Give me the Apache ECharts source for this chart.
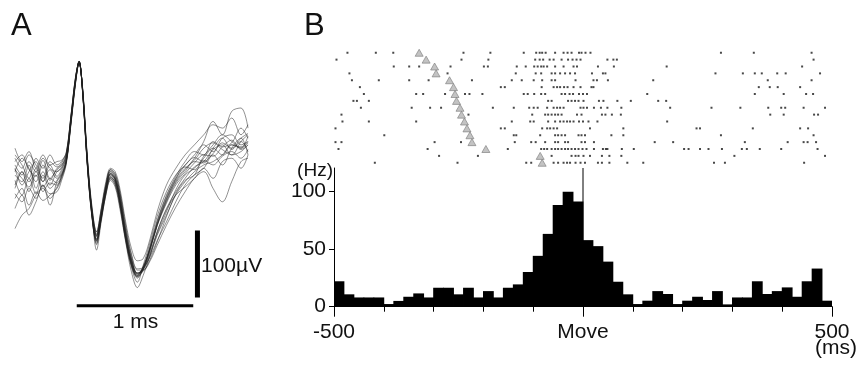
<!DOCTYPE html>
<html>
<head>
<meta charset="utf-8">
<script src="https://cdn.jsdelivr.net/npm/echarts@6/dist/echarts.min.js"></script>
<style>
html, body { margin: 0; padding: 0; background: #fff; }
#chart { width: 860px; height: 369px; }
</style>
</head>
<body>
<div id="chart"></div>
<script>
// ---- panel A: overlaid spike waveforms (ms, µV) ----
const waveTimes = [0, 0.06, 0.12, 0.18, 0.24, 0.30, 0.36, 0.40, 0.44, 0.48, 0.52, 0.55, 0.58, 0.62, 0.66, 0.70,
  0.74, 0.78, 0.82, 0.86, 0.90, 0.95, 1.00, 1.05, 1.10, 1.16, 1.22, 1.30, 1.38, 1.46, 1.54, 1.62, 1.70, 1.78, 1.86, 1.94, 2.00];

const waveforms = [
  [10,-15,5,20,-10,8,-5, 5,22,80,140,168,125,20,-58,-98,-62,-20,2,-6,-40,-95,-135,-152,-140,-110,-75,-40,-12,5,20,18,40,55,38,50,35],
  [-20,5,-25,0,-18,-5,-12, 0,20,76,138,170,128,25,-52,-90,-58,-18,5,-4,-30,-82,-125,-148,-142,-120,-90,-60,-30,-10,5,15,20,30,45,40,48],
  [5,25,10,-10,15,-8,10, 15,30,86,145,169,126,18,-60,-104,-66,-28,-5,-14,-45,-98,-138,-160,-135,-100,-62,-25,0,15,30,45,35,55,60,45,50],
  [-35,-20,-45,-25,-38,-30,-20, -5,18,78,140,167,130,28,-48,-88,-52,-15,8,0,-25,-75,-118,-140,-138,-122,-98,-70,-40,-15,0,10,30,15,40,55,30],
  [15,0,20,5,25,10,5, 12,28,84,144,170,124,15,-62,-102,-65,-25,-3,-12,-42,-92,-132,-150,-136,-108,-72,-35,-8,10,22,40,48,38,30,50,60],
  [-8,-30,-5,-28,0,-20,-8, 2,22,80,141,168,128,24,-55,-92,-60,-22,2,-6,-35,-88,-128,-147,-140,-115,-85,-50,-25,-5,12,20,38,45,30,35,45],
  [25,10,30,15,-5,20,12, 18,32,87,146,168,125,20,-58,-96,-62,-26,-4,-10,-40,-94,-134,-152,-142,-112,-75,-38,-10,8,25,50,80,60,95,100,70],
  [-15,5,-10,10,-25,-12,-15, -2,20,78,139,169,129,26,-54,-90,-56,-16,6,-2,-30,-85,-125,-146,-144,-126,-100,-62,-28,-8,0,22,15,28,35,25,38],
  [0,-10,15,-20,5,-15,5, 10,26,83,143,170,126,19,-60,-98,-63,-23,0,-8,-38,-91,-131,-150,-138,-105,-68,-30,-2,20,35,30,50,42,48,70,55],
  [30,15,-5,25,10,30,15, 20,34,88,146,169,124,17,-62,-100,-67,-29,-6,-15,-46,-97,-136,-154,-140,-108,-70,-32,-5,12,8,28,45,60,50,40,58],
  [-28,-40,-20,-35,-15,-28,-25, -8,16,75,137,167,131,30,-46,-85,-52,-14,8,2,-26,-80,-120,-142,-142,-128,-105,-75,-48,-25,-5,5,-20,-40,-10,20,25],
  [8,-5,-18,5,-10,15,-2, 8,25,82,142,169,127,21,-56,-95,-61,-21,1,-7,-36,-89,-130,-148,-138,-110,-76,-42,-15,2,18,30,28,42,52,38,45],
  [-80,-60,-50,-30,-20,-35,-18, -3,19,79,140,168,129,25,-53,-91,-58,-19,3,-5,-34,-87,-127,-146,-141,-118,-88,-55,-22,0,10,25,40,30,45,42,50],
  [20,30,8,-2,22,-5,8, 14,29,85,144,170,125,18,-60,-97,-64,-24,-2,-10,-41,-93,-133,-151,-139,-110,-74,-36,-6,14,26,20,32,48,40,55,62],
  [-50,-30,-60,-40,-15,-45,-10, 0,21,79,141,168,128,23,-56,-112,-70,-30,-8,-18,-50,-100,-145,-168,-150,-120,-85,-52,-30,-18,-5,10,-5,20,25,10,30],
  [40,20,35,10,30,15,20, 22,33,88,147,169,126,19,-50,-85,-50,-10,10,5,-20,-70,-110,-128,-125,-95,-55,-15,10,30,45,60,75,70,85,60,75]
];

// scale bars: 1 ms and 100 µV
const timeBar = [[0.53, -195], [1.53, -195]];
const voltBar = [[1.566, -83], [1.566, -183]];

// ---- panel B: raster (spike times in ms, one list per trial) ----
const trials = [
  [-473,-416,-381,-240,-186,-119,-94,-87,-82,-75,-56,-39,-31,-23,-8,-3,5,15,277,343,459],
  [-495,-244,-190,-96,-87,-80,-67,-59,-43,-30,-21,-13,-5,49,61,68,463],
  [-380,-349,-329,-266,-199,-191,-133,-115,-98,-91,-84,-79,-72,-56,-39,-19,-12,30,62,168,440],
  [-469,-272,-135,-95,-84,-63,-56,-46,-36,-26,-16,18,40,45,266,321,345,359,390,407,476],
  [-464,-410,-349,-310,-223,-143,-123,-99,-82,-63,-56,-15,21,28,50,141,371,459],
  [-448,-165,-157,-83,-59,-52,-46,-38,-31,-19,-5,17,21,353,375,391,436],
  [-440,-335,-321,-277,-237,-228,-202,-119,-111,-98,-84,-76,-43,-36,-27,-20,-8,0,8,129,345,403,448,462],
  [-461,-454,-430,-70,-63,-30,-23,-16,-9,1,32,41,69,96,151,167],
  [-446,-344,-307,-285,-181,-139,-108,-99,-91,-72,-59,-52,-46,-39,-5,1,8,22,36,49,77,175,258,316,372,398,406,443,486],
  [-485,-230,-102,-76,-70,-63,-56,-50,-43,-12,-3,38,45,58,76,376,403,464,472],
  [-483,-430,-335,-143,-106,-99,-70,-56,-46,-39,-32,-26,-19,-8,0,11,29,169],
  [-497,-165,-157,-82,-72,-66,-59,-52,14,81,228,235,341,436,452],
  [-399,-139,-134,-86,-56,-50,-43,-36,-9,-3,4,57,81,277,463],
  [-497,-485,-298,-245,-137,-104,-95,-76,-56,-50,-36,-30,-3,4,22,144,181,325,411,443,451,468],
  [-491,-312,-151,-84,-78,-72,-63,-56,-50,-43,-36,-30,-23,-16,-9,-1,7,22,40,46,49,78,102,203,212,235,252,279,319,329,355,398,471],
  [-289,-211,-63,-23,-15,-9,1,14,38,53,77,304,486],
  [-418,-252,-114,-104,-59,-50,-39,-32,-26,-15,-5,4,30,38,53,89,121,263,285,444]
];
// cue time (triangle) for each trial, ms
const cueTimes = [-329,-315,-298,-295,-268,-260,-257,-254,-247,-244,-238,-233,-227,-223,-195,-86,-82];

// ---- panel B: peri-event histogram, 20 ms bins ----
const binStarts = [-500,-480,-460,-440,-420,-400,-380,-360,-340,-320,-300,-280,-260,-240,-220,-200,-180,-160,-140,-120,
  -100,-80,-60,-40,-20,0,20,40,60,80,100,120,140,160,180,200,220,240,260,280,300,320,340,360,380,400,420,440,460,480];
const rates = [22,10.7,8,8,8,2.3,5,8.6,11.5,8,16.4,16.4,10.7,16.4,8,13.5,8,16.4,19.3,30,
  44,63,88,99.4,91,57.6,52.4,39,21.6,10.7,2.3,5.2,13.5,11,2.3,5.2,8.6,5.8,13.5,2,
  8,8,22,11,13.5,16.7,8.6,22,33,5.2];
const rateTicks = [0, 50, 100];
const moveTime = 0;
const rateMax = 120;

const FONT = '"Liberation Sans", Arial, sans-serif';
const INK = '#111';

const spikePoints = [];
trials.forEach((row, i) => row.forEach(t => spikePoints.push([t, i])));
const cuePoints = cueTimes.map((t, i) => [t, i]);

const series = waveforms.map(w => ({
  type: 'line', xAxisIndex: 0, yAxisIndex: 0,
  data: w.map((v, i) => [waveTimes[i], v]),
  showSymbol: false, smooth: 0.35, silent: true,
  lineStyle: { color: 'rgba(30,30,30,0.62)', width: 0.8 }
}));

series.push(
  { type: 'line', xAxisIndex: 0, yAxisIndex: 0, data: timeBar, showSymbol: false,
    lineStyle: { color: '#000', width: 3 } },
  { type: 'line', xAxisIndex: 0, yAxisIndex: 0, data: voltBar, showSymbol: false,
    lineStyle: { color: '#000', width: 5 } },
  { type: 'scatter', xAxisIndex: 1, yAxisIndex: 1, data: spikePoints,
    symbol: 'rect', symbolSize: [2, 2], itemStyle: { color: '#1a1a1a' } },
  { type: 'scatter', xAxisIndex: 1, yAxisIndex: 1, data: cuePoints,
    symbol: 'triangle', symbolSize: [8, 7],
    itemStyle: { color: '#b4b4b4', borderColor: '#7c7c7c', borderWidth: 0.8 } },
  // bars slightly wider than the 20 ms band so neighbours overlap with no seams
  { type: 'bar', xAxisIndex: 2, yAxisIndex: 2, data: rates,
    barWidth: 10.8, itemStyle: { color: '#000' } },
  { type: 'line', xAxisIndex: 3, yAxisIndex: 2, data: [[moveTime, 0], [moveTime, rateMax]],
    showSymbol: false, lineStyle: { color: '#000', width: 1 } }
);

const chart = echarts.init(document.getElementById('chart'));
chart.setOption({
  animation: false,
  grid: [
    { left: 15, top: 41, width: 233, height: 301.5 },
    { left: 334, top: 50, width: 498, height: 115.5 },
    { left: 334, top: 168, width: 498, height: 138.7 }
  ],
  xAxis: [
    { type: 'value', gridIndex: 0, min: 0, max: 2.0, show: false },
    { type: 'value', gridIndex: 1, min: -500, max: 500, show: false },
    { type: 'category', gridIndex: 2, data: binStarts, show: false, boundaryGap: true },
    { type: 'value', gridIndex: 2, min: -500, max: 500, interval: 100, position: 'bottom',
      axisLine: { onZero: false, lineStyle: { color: '#000', width: 1 } },
      axisTick: { show: true, length: 5, lineStyle: { color: '#000' } },
      axisLabel: { show: false }, splitLine: { show: false } },
    { type: 'value', gridIndex: 2, min: -500, max: 500, interval: 500, position: 'bottom',
      axisLine: { show: false, onZero: false },
      axisTick: { show: true, length: 10, lineStyle: { color: '#000' } },
      axisLabel: { margin: 15, fontSize: 21, fontFamily: FONT, color: INK,
        formatter: v => v === 0 ? 'Move' : String(v) },
      splitLine: { show: false } }
  ],
  yAxis: [
    { type: 'value', gridIndex: 0, min: -250, max: 200, show: false },
    { type: 'value', gridIndex: 1, min: -0.4, max: 16.4, inverse: true, show: false },
    { type: 'value', gridIndex: 2, min: 0, max: rateMax,
      axisLine: { show: true, onZero: false, lineStyle: { color: '#000', width: 1 } },
      axisTick: { show: true, length: 5, customValues: rateTicks, lineStyle: { color: '#000' } },
      axisLabel: { margin: 8, fontSize: 21, fontFamily: FONT, color: INK, customValues: rateTicks },
      splitLine: { show: false } }
  ],
  graphic: [
    { type: 'text', left: 11, top: 11, style: { text: 'A', fontSize: 31, fontFamily: FONT, fill: INK } },
    { type: 'text', left: 304, top: 11, style: { text: 'B', fontSize: 31, fontFamily: FONT, fill: INK } },
    { type: 'text', x: 333, y: 171, style: { text: '(Hz)', fontSize: 19, fontFamily: FONT, fill: INK,
      align: 'right', verticalAlign: 'middle' } },
    { type: 'text', x: 836, y: 348, style: { text: '(ms)', fontSize: 21, fontFamily: FONT, fill: INK,
      align: 'center', verticalAlign: 'middle' } },
    { type: 'text', x: 135.5, y: 322, style: { text: '1 ms', fontSize: 21, fontFamily: FONT, fill: INK,
      align: 'center', verticalAlign: 'middle' } },
    { type: 'text', x: 201, y: 266, style: { text: '100µV', fontSize: 21, fontFamily: FONT, fill: INK,
      align: 'left', verticalAlign: 'middle' } }
  ],
  series: series
});
</script>
</body>
</html>
